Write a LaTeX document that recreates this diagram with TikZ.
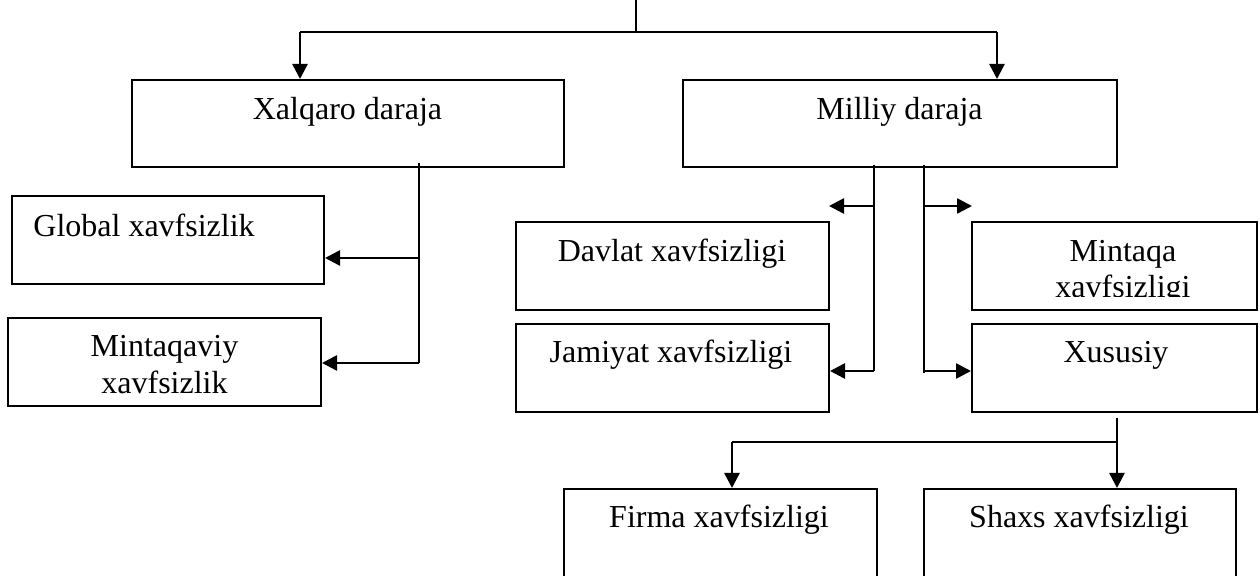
\documentclass[tikz,border=0pt]{standalone}
\usepackage{fontspec}
\setmainfont{Liberation Serif}
\usetikzlibrary{arrows.meta,calc}
\begin{document}
\begin{tikzpicture}[x=0.5pt,y=-0.5pt,
  box/.style={draw=black,line width=1pt,rectangle,inner sep=0pt},
  lbl/.style={font=\fontsize{16}{18.5}\selectfont,anchor=base,inner sep=0pt},
  conn/.style={line width=1pt},
  arr/.style={line width=1.3pt,-{Triangle[length=7.5pt,width=7.5pt]}}]
\path[use as bounding box,fill=white] (0,0) rectangle (1260,576);
% boxes
\node[box,minimum width=216pt,minimum height=43.5pt] (xal) at (348,123.5) {};
\node[box,minimum width=217pt,minimum height=43.5pt] (mil) at (900,123.5) {};
\node[box,minimum width=156pt,minimum height=44pt] (glob) at (168,240) {};
\node[box,minimum width=156.5pt,minimum height=44pt] (mintv) at (164.5,362) {};
\node[box,minimum width=156.5pt,minimum height=44pt] (dav) at (672.5,266) {};
\node[box,minimum width=156.5pt,minimum height=44pt] (jam) at (672.5,368) {};
\node[box,minimum width=142.5pt,minimum height=44pt] (minq) at (1114.5,266) {};
\node[box,minimum width=142.5pt,minimum height=44pt] (xus) at (1114.5,368) {};
\node[box,minimum width=156.5pt,minimum height=75.5pt] (firma) at (720.5,564.5) {};
\node[box,minimum width=156pt,minimum height=75.5pt] (shaxs) at (1080,564.5) {};
% texts
\node[lbl] (txal) at (347.5,120) {Xalqaro daraja};
\node[lbl] (tmil) at (899.5,120) {Milliy daraja};
\node[lbl,anchor=base west] (tglob) at (33,237) {Global xavfsizlik};
\node[lbl] (tmv1) at (164.5,357) {Mintaqaviy};
\node[lbl] (tmv2) at (164.5,394) {xavfsizlik};
\node[lbl] (tdav) at (672,262) {Davlat xavfsizligi};
\node[lbl] (tjam) at (671,363) {Jamiyat xavfsizligi};
\node[lbl] (tmq1) at (1123,262) {Mintaqa};
\begin{scope}
\clip (972,222) rectangle (1257,297);
\node[lbl] (tmq2) at (1123,298) {xavfsizligi};
\end{scope}
\node[lbl] (txus) at (1116,363) {Xususiy};
\node[lbl] (tfir) at (719,528) {Firma xavfsizligi};
\node[lbl] (tsha) at (1079,528) {Shaxs xavfsizligi};
% top connectors
\coordinate (top) at (636,0);
\coordinate (tj) at (636,32);
\coordinate (tl) at (300,32);
\coordinate (tr) at (997,32);
\draw[conn] (top) -- (tj);
\draw[conn] (tl) -- (tr);
\draw[arr] (tl) -- (tl |- xal.north);
\draw[arr] (tr) -- (tr |- mil.north);
% Xalqaro branch
\coordinate (xa) at (419,163);
\coordinate (xb) at (419,363);
\coordinate (xg) at (419,258);
\draw[conn] (xa) -- (xb);
\draw[arr] (xg) -- (xg -| glob.east);
\draw[arr] (xb) -- (xb -| mintv.east);
% Milliy left branch
\coordinate (ma) at (874,165);
\coordinate (mb) at (874,371);
\coordinate (mc) at (874,206);
\coordinate (md) at (829,206);
\draw[conn] (ma) -- (mb);
\draw[arr] (mc) -- (md);
\draw[arr] (mb) -- (mb -| jam.east);
% Milliy right branch
\coordinate (na) at (924,165);
\coordinate (nb) at (924,371);
\coordinate (nc) at (924,206);
\coordinate (nd) at (972,206);
\draw[conn] (na) -- (924,373);
\draw[arr] (nc) -- (nd);
\draw[arr] (nb) -- (nb -| xus.west);
% Xususiy branch
\coordinate (xd) at (1117,418);
\coordinate (xe) at (1117,442);
\coordinate (xf) at (732,442);
\draw[conn] (xd) -- (xe) -- (xf);
\draw[arr] (xe) -- (xe |- shaxs.north);
\draw[arr] (xf) -- (xf |- firma.north);
\end{tikzpicture}
\end{document}
